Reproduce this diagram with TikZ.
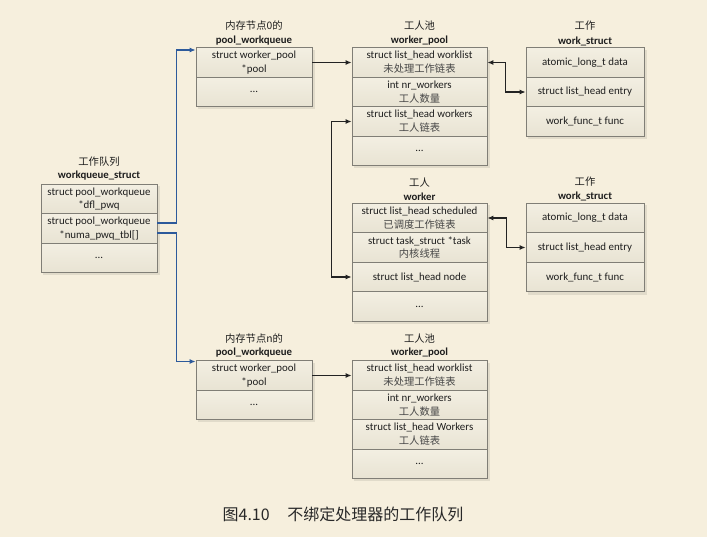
\documentclass[tikz,border=0pt]{standalone}
\usepackage{fontspec}
\setmainfont{Carlito}
\newfontfamily\cjk{Noto Sans CJK SC}
\usetikzlibrary{arrows.meta}
\definecolor{bg}{RGB}{246,239,221}
\definecolor{boxtop}{RGB}{243,239,226}
\definecolor{boxbot}{RGB}{232,227,211}
\definecolor{boxline}{RGB}{128,126,118}
\definecolor{shadowc}{RGB}{225,219,202}
\definecolor{txt}{RGB}{30,30,30}
\definecolor{zhc}{RGB}{70,70,70}
\definecolor{blueln}{RGB}{45,90,155}
\definecolor{blkln}{RGB}{35,35,35}
\definecolor{capc}{RGB}{40,40,40}
\newcommand\zhline[1]{{\cjk\fontsize{10.3}{13.5}\selectfont\color{zhc}#1}}
\begin{document}
\begin{tikzpicture}[x=1pt,y=-1pt,
  >={Latex[length=6pt,width=5pt]},
  row/.style={draw=boxline, line width=0.8pt, top color=boxtop, bottom color=boxbot,
    minimum height=29.5pt, inner sep=0pt, align=center, text=txt,
    font=\fontsize{10.9}{13.8}\selectfont},
  wA/.style={minimum width=116pt},
  wB/.style={minimum width=135pt},
  wC/.style={minimum width=118pt},
  ttlzh/.style={inner sep=0pt, text=txt, font=\cjk\fontsize{10.3}{10.3}\selectfont},
  ttlen/.style={inner sep=0pt, text=txt, font=\bfseries\fontsize{10.8}{10.8}\selectfont},
  blueline/.style={draw=blueln, line width=1.1pt, ->},
  blk/.style={draw=blkln, line width=1.1pt},
  shd/.style={fill=shadowc}
]
\fill[bg] (0,0) rectangle (707,537);
\useasboundingbox (0,0) rectangle (707,537);

% shadows
\fill[shd] (43,186) rectangle (160,275);
\fill[shd] (198,50) rectangle (315,109);
\fill[shd] (354,50) rectangle (490,168);
\fill[shd] (528,50) rectangle (647,139);
\fill[shd] (354,205) rectangle (490,324);
\fill[shd] (528,205) rectangle (647,295);
\fill[shd] (198,363) rectangle (315,422);
\fill[shd] (354,363) rectangle (490,481);

% workqueue_struct
\node[ttlzh] (wqT) at (99,162) {工作队列};
\node[ttlen] (wqN) at (99,176) {workqueue\_struct};
\node[row,wA] (wq1) at (99,199) {struct pool\_workqueue\\*dfl\_pwq};
\node[row,wA] (wq2) at (99,228.5) {struct pool\_workqueue\\*numa\_pwq\_tbl[]};
\node[row,wA] (wq3) at (99,258) {...};

% pool_workqueue node 0
\node[ttlzh] (p0T) at (254,26) {内存节点0的};
\node[ttlen] (p0N) at (254,41) {pool\_workqueue};
\node[row,wA] (p0a) at (254,62.5) {struct worker\_pool\\*pool};
\node[row,wA] (p0b) at (254,92) {...};

% worker_pool 0
\node[ttlzh] (w0T) at (419.5,26) {工人池};
\node[ttlen] (w0N) at (419.5,41) {worker\_pool};
\node[row,wB] (w0a) at (419.5,62.5) {struct list\_head worklist\\\zhline{未处理工作链表}};
\node[row,wB] (w0b) at (419.5,92) {int nr\_workers\\\zhline{工人数量}};
\node[row,wB] (w0c) at (419.5,121.5) {struct list\_head workers\\\zhline{工人链表}};
\node[row,wB] (w0d) at (419.5,151) {...};

% work_struct 0
\node[ttlzh] (s0T) at (585,26) {工作};
\node[ttlen] (s0N) at (585,41) {work\_struct};
\node[row,wC] (s0a) at (585,62.5) {atomic\_long\_t data};
\node[row,wC] (s0b) at (585,92) {struct list\_head entry};
\node[row,wC] (s0c) at (585,121.5) {work\_func\_t func};

% worker
\node[ttlzh] (kT) at (419.5,183) {工人};
\node[ttlen] (kN) at (419.5,197) {worker};
\node[row,wB] (ka) at (419.5,218) {struct list\_head scheduled\\\zhline{已调度工作链表}};
\node[row,wB] (kb) at (419.5,247.5) {struct task\_struct *task\\\zhline{内核线程}};
\node[row,wB] (kc) at (419.5,277) {struct list\_head node};
\node[row,wB] (kd) at (419.5,306.5) {...};

% work_struct 1
\node[ttlzh] (s1T) at (585,182) {工作};
\node[ttlen] (s1N) at (585,196) {work\_struct};
\node[row,wC] (s1a) at (585,218) {atomic\_long\_t data};
\node[row,wC] (s1b) at (585,247.5) {struct list\_head entry};
\node[row,wC] (s1c) at (585,277) {work\_func\_t func};

% pool_workqueue node n
\node[ttlzh] (pnT) at (254,339) {内存节点n的};
\node[ttlen] (pnN) at (254,353) {pool\_workqueue};
\node[row,wA] (pna) at (254,375.5) {struct worker\_pool\\*pool};
\node[row,wA] (pnb) at (254,405) {...};

% worker_pool n
\node[ttlzh] (wnT) at (419.5,339) {工人池};
\node[ttlen] (wnN) at (419.5,353) {worker\_pool};
\node[row,wB] (wna) at (419.5,375.5) {struct list\_head worklist\\\zhline{未处理工作链表}};
\node[row,wB] (wnb) at (419.5,405) {int nr\_workers\\\zhline{工人数量}};
\node[row,wB] (wnc) at (419.5,434.5) {struct list\_head Workers\\\zhline{工人链表}};
\node[row,wB] (wnd) at (419.5,464) {...};

% connectors
\draw[blueline] ([yshift=5.5pt]wq2.east) -- ++(19,0) |- ([yshift=12.5pt]p0a.west);
\draw[blueline] ([yshift=-4.5pt]wq2.east) -- ++(19,0) |- ([yshift=14pt]pna.west);
\draw[blk,->] (p0a.east) -- (w0a.west);
\draw[blk,->] (pna.east) -- (wna.west);
\draw[blk,<->] (s0b.west) -- ++(-20,0) |- (w0a.east);
\draw[blk,<->] (w0c.west) -- ++(-20,0) |- (kc.west);
\draw[blk,<->] (s1b.west) -- ++(-19,0) |- (ka.east);

% caption
\node[inner sep=0pt, text=capc, font=\cjk\fontsize{16}{16}\selectfont] (cap) at (343,514)
  {图4.10\hspace{1.1em}不绑定处理器的工作队列};
\end{tikzpicture}
\end{document}
